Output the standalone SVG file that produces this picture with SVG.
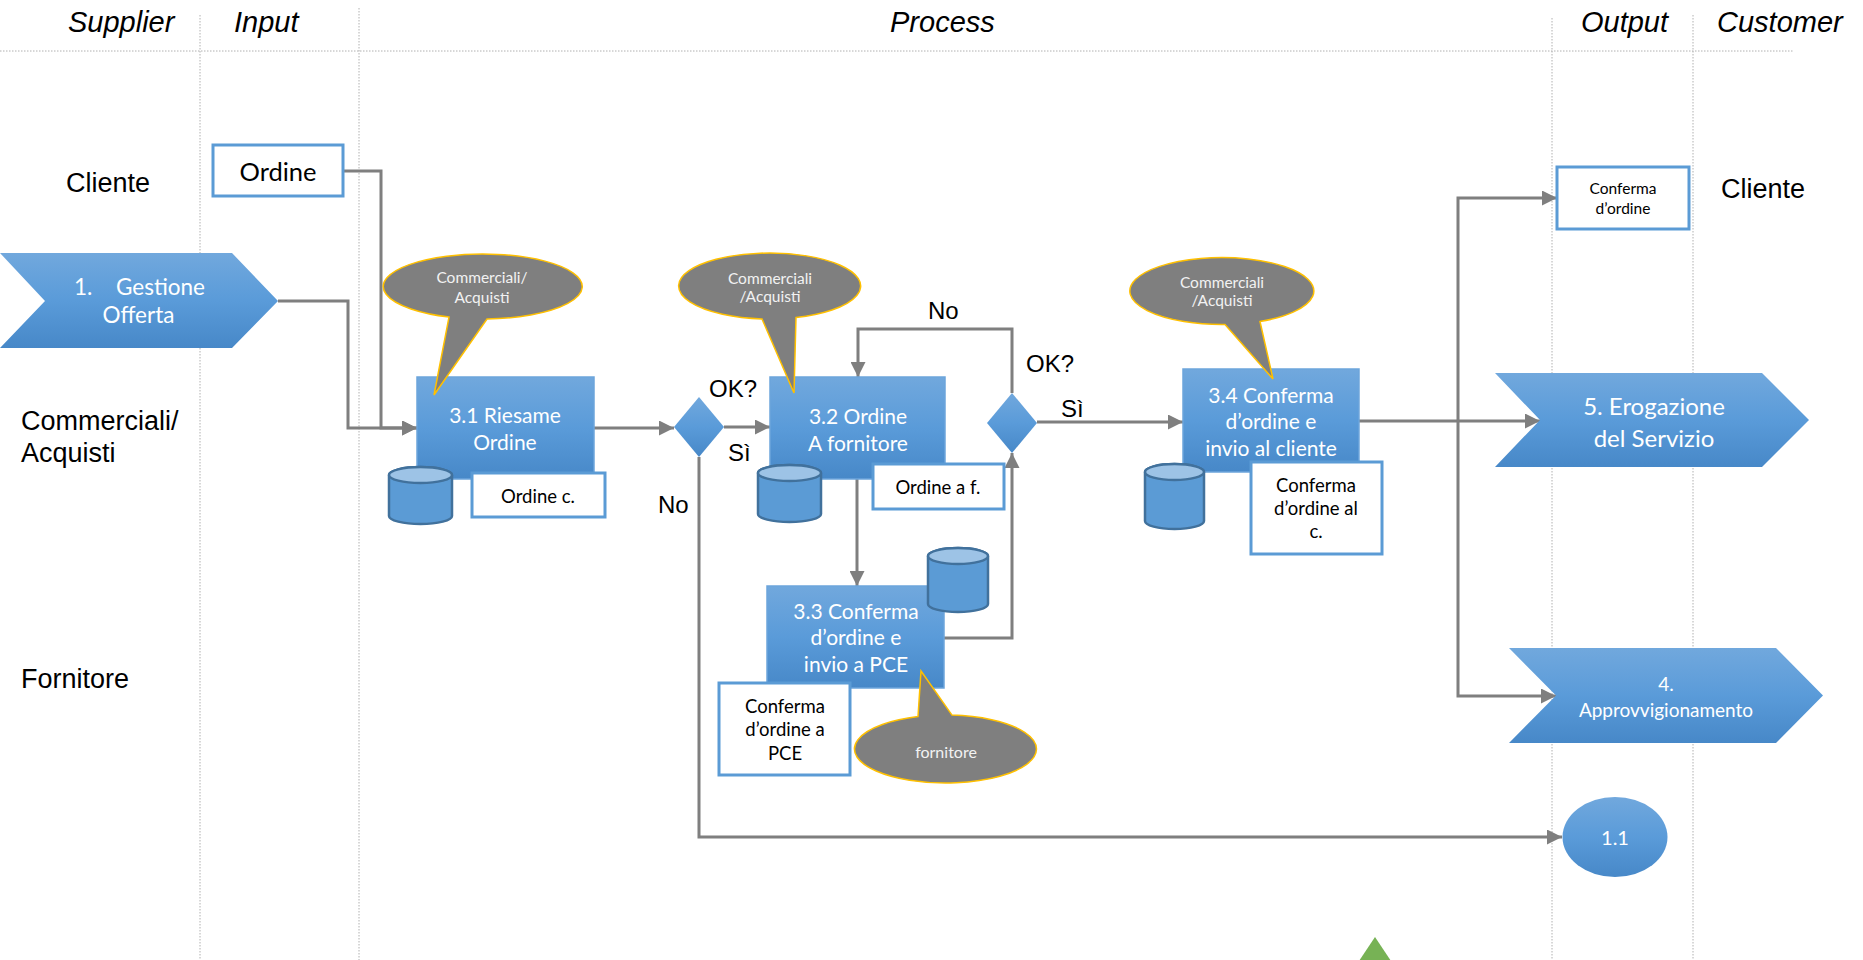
<svg xmlns="http://www.w3.org/2000/svg" width="1863" height="960" viewBox="0 0 1863 960">
  <defs>
    <linearGradient id="blueFill" x1="0" y1="0" x2="0" y2="1">
      <stop offset="0" stop-color="#71a8dd"/>
      <stop offset="0.5" stop-color="#5a9bd9"/>
      <stop offset="1" stop-color="#4788c8"/>
    </linearGradient>
    <marker id="arrow" viewBox="0 0 10 10" refX="10" refY="5" markerWidth="15" markerHeight="15" markerUnits="userSpaceOnUse" orient="auto">
      <path d="M0,0 L10,5 L0,10 Z" fill="#7f7f7f"/>
    </marker>
  </defs>
  <style>
    .guide { stroke:#b0b0b0; stroke-width:1; stroke-dasharray:1.5 1.5; fill:none; }
    .head { font-family:"Liberation Sans", Arial, sans-serif; font-style:italic; font-size:29px; fill:#000; }
    .lane { font-family:"Liberation Sans", Arial, sans-serif; font-size:27px; fill:#000; }
    .lbl { font-family:"Liberation Sans", Arial, sans-serif; font-size:24px; fill:#000; }
    .conn { fill:none; stroke:#7f7f7f; stroke-width:3; }
    .arr { marker-end:url(#arrow); }
    .proc { fill:url(#blueFill); stroke:#6ca5db; stroke-width:1.5; }
    .shape { fill:url(#blueFill); }
    .ptxt { font-family:Lato, "Open Sans", sans-serif; font-size:21px; fill:#fff; text-anchor:middle; }
    .doc { fill:#fff; stroke:#5b9bd5; stroke-width:3; }
    .dtxt { font-family:Lato, "Open Sans", sans-serif; font-size:18.5px; fill:#000; text-anchor:middle; }
    .db-body { fill:#5b9bd5; stroke:#41719c; stroke-width:2.5; }
    .db-top { fill:#9dc3e6; stroke:#41719c; stroke-width:2.5; }
    .bubble { fill:#7f7f7f; stroke:#ffc000; stroke-width:1.5; }
    .btxt { font-family:Lato, "Open Sans", sans-serif; font-size:15.5px; fill:#f2f2f2; text-anchor:middle; }
  </style>

  <!-- swimlane guides -->
  <g id="guides">
    <line class="guide" x1="0" y1="51" x2="1793" y2="51"/>
    <line class="guide" x1="200" y1="15" x2="200" y2="960"/>
    <line class="guide" x1="359" y1="8" x2="359" y2="960"/>
    <line class="guide" x1="1552" y1="18" x2="1552" y2="960"/>
    <line class="guide" x1="1693" y1="15" x2="1693" y2="960"/>
  </g>

  <!-- column headers and lane names -->
  <g id="headers">
    <text class="head" x="68" y="32">Supplier</text>
    <text class="head" x="234" y="32">Input</text>
    <text class="head" x="890" y="32">Process</text>
    <text class="head" x="1581" y="32">Output</text>
    <text class="head" x="1717" y="32">Customer</text>
  </g>
  <g id="lanes">
    <text class="lane" x="66" y="192">Cliente</text>
    <text class="lane" x="21" y="430">Commerciali/</text>
    <text class="lane" x="21" y="462">Acquisti</text>
    <text class="lane" x="21" y="688">Fornitore</text>
    <text class="lane" x="1721" y="198">Cliente</text>
  </g>

  <!-- connectors -->
  <g id="connectors">
    <path class="conn arr" d="M343,171 H381 V428 H417"/>
    <path class="conn arr" d="M278,301 H348 V428 H417"/>
    <path class="conn arr" d="M594,428 H674"/>
    <path class="conn arr" d="M724,427 H770"/>
    <path class="conn arr" d="M699,457 V837 H1562"/>
    <path class="conn arr" d="M857,479 V586"/>
    <path class="conn arr" d="M944,638 H1012 V453"/>
    <path class="conn arr" d="M1012,393 V329 H858 V377"/>
    <path class="conn arr" d="M1037,422 H1183"/>
    <path class="conn arr" d="M1359,421 H1540"/>
    <path class="conn arr" d="M1458,421 V198 H1557"/>
    <path class="conn arr" d="M1458,421 V696 H1556"/>
  </g>

  <!-- decision labels -->
  <g id="decision-labels">
    <text class="lbl" x="709" y="397">OK?</text>
    <text class="lbl" x="728" y="461">Sì</text>
    <text class="lbl" x="658" y="513">No</text>
    <text class="lbl" x="1026" y="372">OK?</text>
    <text class="lbl" x="928" y="319">No</text>
    <text class="lbl" x="1061" y="417">Sì</text>
  </g>

  <g id="input-ordine">
    <rect class="doc" x="213" y="145" width="130" height="51"/>
    <text class="dtxt" x="278" y="181" style="font-size:25.5px">Ordine</text>
  </g>

  <g id="gestione-offerta">
    <polygon class="shape" points="0,253 232,253 278,301 232,348 0,348 45,301"/>
    <text class="ptxt" style="font-size:22.5px;text-anchor:start" x="74" y="295">1.<tspan x="116">Gestione</tspan></text>
    <text class="ptxt" style="font-size:22.5px" x="138.5" y="323">Offerta</text>
  </g>

  <g id="riesame-ordine">
    <rect class="proc" x="417" y="377" width="177" height="102"/>
    <text class="ptxt" x="505" y="423">3.1 Riesame</text>
    <text class="ptxt" x="505" y="450">Ordine</text>
  </g>
  <g id="db-1">
    <path class="db-body" d="M389,475 V516 A31.5,8 0 0 0 452,516 V475 A31.5,8 0 0 0 389,475 Z"/>
    <ellipse class="db-top" cx="420.5" cy="475" rx="31.5" ry="8"/>
  </g>
  <g id="doc-ordine-c">
    <rect class="doc" x="472" y="473" width="133" height="44"/>
    <text class="dtxt" x="538" y="503">Ordine c.</text>
  </g>
  <g id="callout-1">
    <path class="bubble" d="M487,319 A99.5,32.5 0 1 0 449,317.1 L434,395 Z"/>
    <text class="btxt" x="482" y="283">Commerciali/</text>
    <text class="btxt" x="482" y="303">Acquisti</text>
  </g>

  <g id="decision-1">
    <polygon class="shape" points="699,397 724,427 699,457 674,427"/>
  </g>

  <g id="ordine-fornitore">
    <rect class="proc" x="770" y="377" width="175" height="102"/>
    <text class="ptxt" x="858" y="424">3.2 Ordine</text>
    <text class="ptxt" x="858" y="451">A fornitore</text>
  </g>
  <g id="db-2">
    <path class="db-body" d="M758,473 V514 A31.5,8 0 0 0 821,514 V473 A31.5,8 0 0 0 758,473 Z"/>
    <ellipse class="db-top" cx="789.5" cy="473" rx="31.5" ry="8"/>
  </g>
  <g id="doc-ordine-af">
    <rect class="doc" x="873" y="464" width="131" height="45"/>
    <text class="dtxt" x="938" y="494">Ordine a f.</text>
  </g>
  <g id="callout-2">
    <path class="bubble" d="M796,317.6 A91,33 0 1 0 762,318.9 L794,393 Z"/>
    <text class="btxt" x="770" y="284">Commerciali</text>
    <text class="btxt" x="770" y="302">/Acquisti</text>
  </g>

  <g id="conferma-pce">
    <rect class="proc" x="767" y="586" width="177" height="102"/>
    <text class="ptxt" x="856" y="619">3.3 Conferma</text>
    <text class="ptxt" x="856" y="645">d’ordine e</text>
    <text class="ptxt" x="856" y="672">invio a PCE</text>
  </g>
  <g id="db-3">
    <path class="db-body" d="M928,556 V604 A30,8 0 0 0 988,604 V556 A30,8 0 0 0 928,556 Z"/>
    <ellipse class="db-top" cx="958" cy="556" rx="30" ry="8"/>
  </g>
  <g id="doc-conferma-pce">
    <rect class="doc" x="719" y="683" width="131" height="92"/>
    <text class="dtxt" x="785" y="713">Conferma</text>
    <text class="dtxt" x="785" y="736">d’ordine a</text>
    <text class="dtxt" x="785" y="760">PCE</text>
  </g>
  <g id="callout-fornitore">
    <path class="bubble" d="M918,716.6 A91,34 0 1 0 952,715.1 L921,671 Z"/>
    <text class="btxt" x="946" y="758" style="font-size:16px">fornitore</text>
  </g>

  <g id="decision-2">
    <polygon class="shape" points="1012,393 1037,423 1012,453 987,423"/>
  </g>

  <g id="conferma-cliente">
    <rect class="proc" x="1183" y="369" width="176" height="103"/>
    <text class="ptxt" x="1271" y="403">3.4 Conferma</text>
    <text class="ptxt" x="1271" y="429">d’ordine e</text>
    <text class="ptxt" x="1271" y="456">invio al cliente</text>
  </g>
  <g id="db-4">
    <path class="db-body" d="M1145,472 V521 A29.5,8 0 0 0 1204,521 V472 A29.5,8 0 0 0 1145,472 Z"/>
    <ellipse class="db-top" cx="1174.5" cy="472" rx="29.5" ry="8"/>
  </g>
  <g id="doc-conferma-c">
    <rect class="doc" x="1251" y="462" width="131" height="92"/>
    <text class="dtxt" x="1316" y="492">Conferma</text>
    <text class="dtxt" x="1316" y="515">d’ordine al</text>
    <text class="dtxt" x="1316" y="538">c.</text>
  </g>
  <g id="callout-3">
    <path class="bubble" d="M1260,321.5 A92,33.5 0 1 0 1225,324.5 L1273,379 Z"/>
    <text class="btxt" x="1222" y="288">Commerciali</text>
    <text class="btxt" x="1222" y="306">/Acquisti</text>
  </g>

  <g id="output-conferma">
    <rect class="doc" x="1557" y="167" width="132" height="62"/>
    <text class="dtxt" x="1623" y="194" style="font-size:15.5px">Conferma</text>
    <text class="dtxt" x="1623" y="214" style="font-size:15.5px">d’ordine</text>
  </g>

  <g id="erogazione">
    <polygon class="shape" points="1495,373 1762,373 1809,420 1762,467 1495,467 1540,420"/>
    <text class="ptxt" x="1654" y="415" style="font-size:24px">5. Erogazione</text>
    <text class="ptxt" x="1654" y="447" style="font-size:24px">del Servizio</text>
  </g>

  <g id="approvvigionamento">
    <polygon class="shape" points="1509,648 1776,648 1823,695.5 1776,743 1509,743 1556,695.5"/>
    <text class="ptxt" x="1666" y="691" style="font-size:19px">4.</text>
    <text class="ptxt" x="1666" y="717" style="font-size:19px">Approvvigionamento</text>
  </g>

  <g id="ref-1-1">
    <ellipse class="shape" cx="1615" cy="837" rx="52.5" ry="40"/>
    <text class="ptxt" x="1615" y="845" style="font-size:20px">1.1</text>
  </g>

  <g id="marker-triangle">
    <polygon points="1375,937 1359,961 1391,961" fill="#77b255"/>
  </g>
</svg>
